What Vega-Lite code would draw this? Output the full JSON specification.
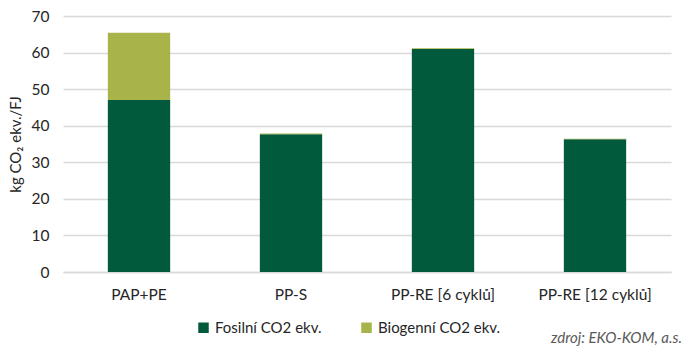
{
  "$schema": "https://vega.github.io/schema/vega-lite/v6.json",
  "width": 608,
  "height": 256,
  "autosize": {"type": "none"},
  "padding": {"left": 63, "top": 16, "right": 29, "bottom": 85},
  "background": "white",
  "config": {
    "font": "Lato",
    "view": {"stroke": null}
  },
  "title": {
    "text": "zdroj: EKO-KOM, a.s.",
    "orient": "bottom",
    "anchor": "end",
    "fontStyle": "italic",
    "fontWeight": "normal",
    "fontSize": 15,
    "color": "#595959",
    "font": "Lato",
    "offset": 26,
    "dy": -31,
    "dx": 11
  },
  "data": {
    "values": [
      {"cat": "PAP+PE", "typ": "Fosilní CO2 ekv.", "ord": 1, "val": 47.0},
      {"cat": "PAP+PE", "typ": "Biogenní CO2 ekv.", "ord": 2, "val": 18.4},
      {"cat": "PP-S", "typ": "Fosilní CO2 ekv.", "ord": 1, "val": 37.7},
      {"cat": "PP-S", "typ": "Biogenní CO2 ekv.", "ord": 2, "val": 0.2},
      {"cat": "PP-RE [6 cyklů]", "typ": "Fosilní CO2 ekv.", "ord": 1, "val": 61.0},
      {"cat": "PP-RE [6 cyklů]", "typ": "Biogenní CO2 ekv.", "ord": 2, "val": 0.2},
      {"cat": "PP-RE [12 cyklů]", "typ": "Fosilní CO2 ekv.", "ord": 1, "val": 36.3},
      {"cat": "PP-RE [12 cyklů]", "typ": "Biogenní CO2 ekv.", "ord": 2, "val": 0.15}
    ]
  },
  "mark": {"type": "bar"},
  "encoding": {
    "x": {
      "field": "cat",
      "type": "nominal",
      "sort": null,
      "scale": {"paddingInner": 0.59, "paddingOuter": 0.295},
      "axis": {
        "title": null,
        "labelAngle": 0,
        "labelFontSize": 15.5,
        "labelColor": "#262626",
        "labelPadding": 15,
        "ticks": false,
        "domainColor": "#d9d9d9",
        "domainWidth": 1.5
      }
    },
    "y": {
      "field": "val",
      "type": "quantitative",
      "stack": "zero",
      "scale": {"domain": [0, 70], "nice": false},
      "axis": {
        "title": "kg CO₂ ekv./FJ",
        "titleFontSize": 15,
        "titleFontWeight": "normal",
        "titleColor": "#262626",
        "titlePadding": 8,
        "values": [0, 10, 20, 30, 40, 50, 60, 70],
        "labelFontSize": 15.5,
        "labelColor": "#262626",
        "labelPadding": 14,
        "ticks": false,
        "domain": false,
        "gridColor": "#d9d9d9",
        "gridWidth": 1.5
      }
    },
    "color": {
      "field": "typ",
      "type": "nominal",
      "scale": {
        "domain": ["Fosilní CO2 ekv.", "Biogenní CO2 ekv."],
        "range": ["#025a3c", "#a8b34a"]
      },
      "legend": {
        "title": null,
        "orient": "none",
        "direction": "horizontal",
        "legendX": 133,
        "legendY": 304,
        "symbolType": "square",
        "symbolSize": 110,
        "symbolStrokeWidth": 0,
        "labelFontSize": 15,
        "labelColor": "#262626",
        "columnPadding": 37,
        "labelOffset": 4
      }
    },
    "order": {"field": "ord", "type": "quantitative", "sort": "ascending"}
  }
}
